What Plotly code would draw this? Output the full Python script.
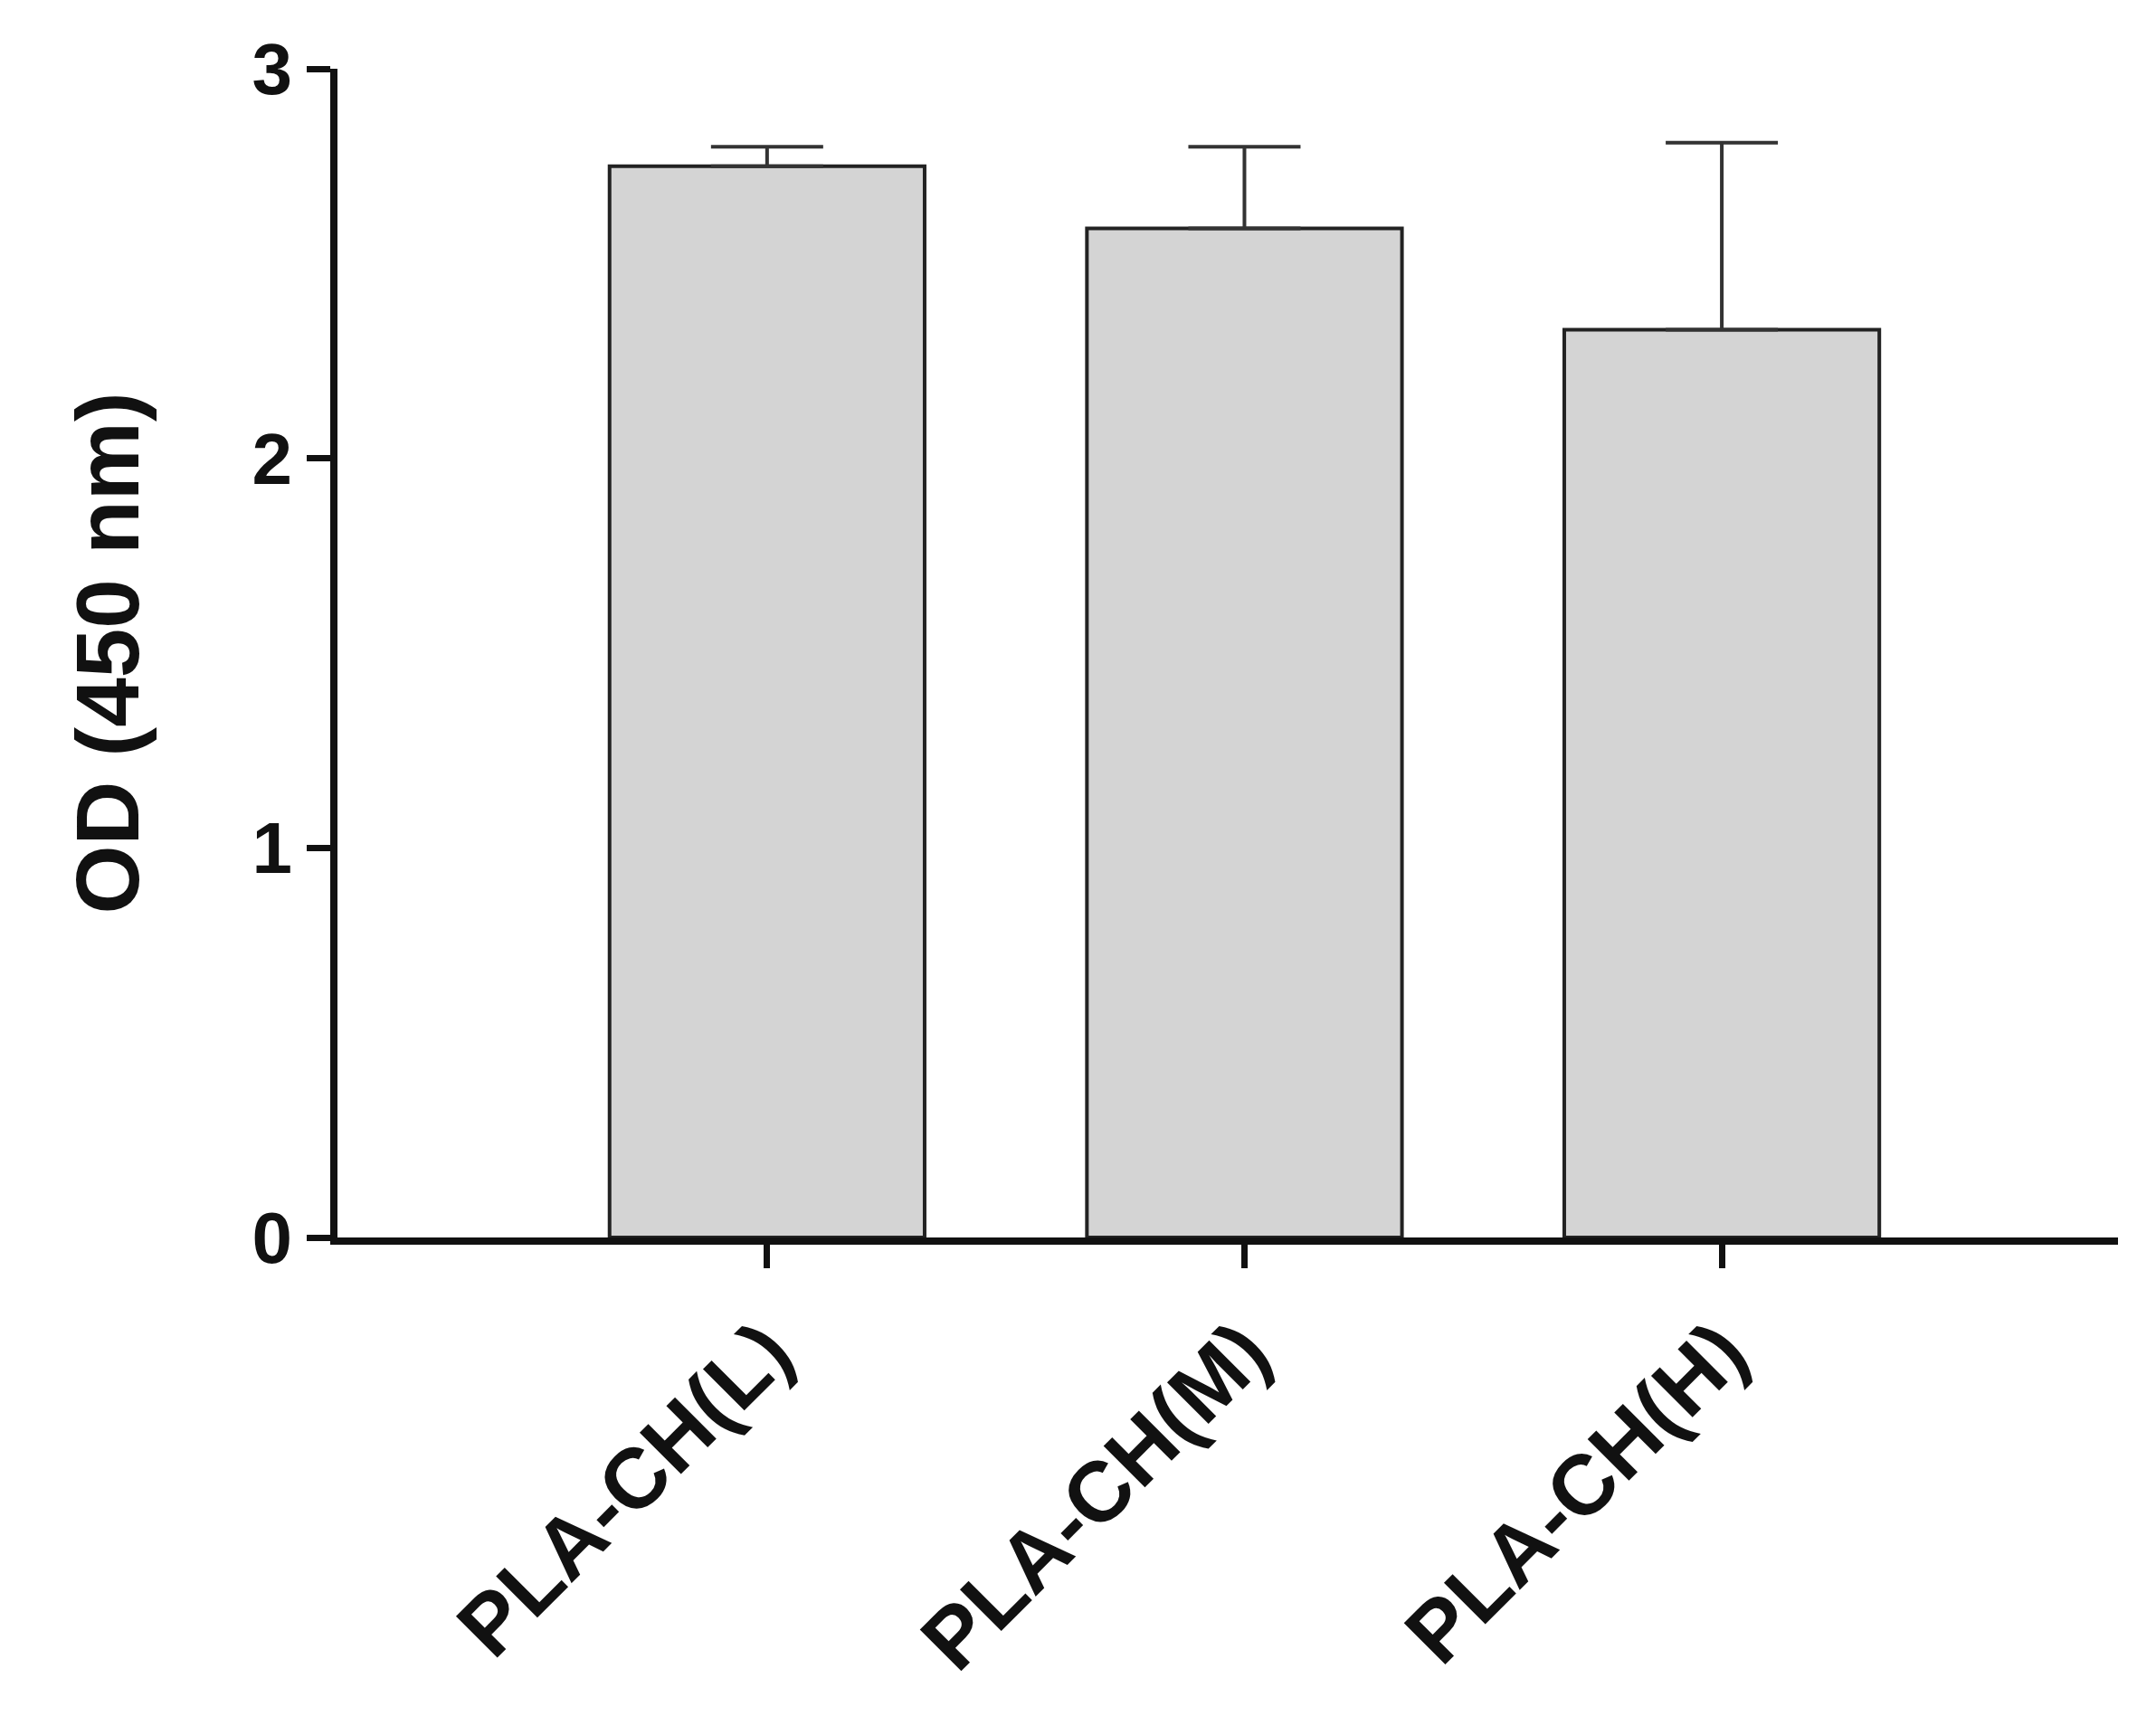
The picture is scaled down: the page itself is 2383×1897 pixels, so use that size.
import plotly.graph_objects as go

categories = ["PLA-CH(L)", "PLA-CH(M)", "PLA-CH(H)"]
od_mean = [2.75, 2.59, 2.33]
od_sd = [0.05, 0.21, 0.48]
y_ticks = [0, 1, 2, 3]

fig = go.Figure(go.Bar(
    x=[0, 1, 2],
    y=od_mean,
    width=0.66,
    marker=dict(color="#d4d4d4", line=dict(color="#222222", width=4)),
    error_y=dict(type="data", array=od_sd, symmetric=False, arrayminus=[0, 0, 0],
                 color="#333333", thickness=4, width=62),
))

font_y = dict(family="Liberation Sans, Arial", size=80, color="#111111")
font_x = dict(family="Liberation Sans, Arial", size=94, color="#111111")
font_title = dict(family="Liberation Sans, Arial", size=98, color="#111111")
fig.update_layout(
    width=2383, height=1897,
    margin=dict(l=365, r=50, t=68, b=537),
    plot_bgcolor="white", paper_bgcolor="white",
    showlegend=False,
    xaxis=dict(
        range=[-0.9, 2.83],
        tickvals=[0, 1, 2],
        ticktext=[f"<b>{c}</b>" for c in categories],
        tickangle=-45, tickfont=font_x,
        showline=True, linecolor="#111111", linewidth=8,
        ticks="outside", ticklen=26, tickwidth=7, tickcolor="#111111",
        showgrid=False, zeroline=False,
    ),
    yaxis=dict(
        range=[0, 3],
        tickvals=y_ticks,
        ticktext=[f"<b>{v}</b>" for v in y_ticks],
        tickfont=font_y,
        title=dict(text="<b>OD (450 nm)</b>", font=font_title, standoff=95),
        showline=True, linecolor="#111111", linewidth=8,
        ticks="outside", ticklen=26, tickwidth=7, tickcolor="#111111",
        showgrid=False, zeroline=False,
    ),
)

fig.write_html("out.html")
